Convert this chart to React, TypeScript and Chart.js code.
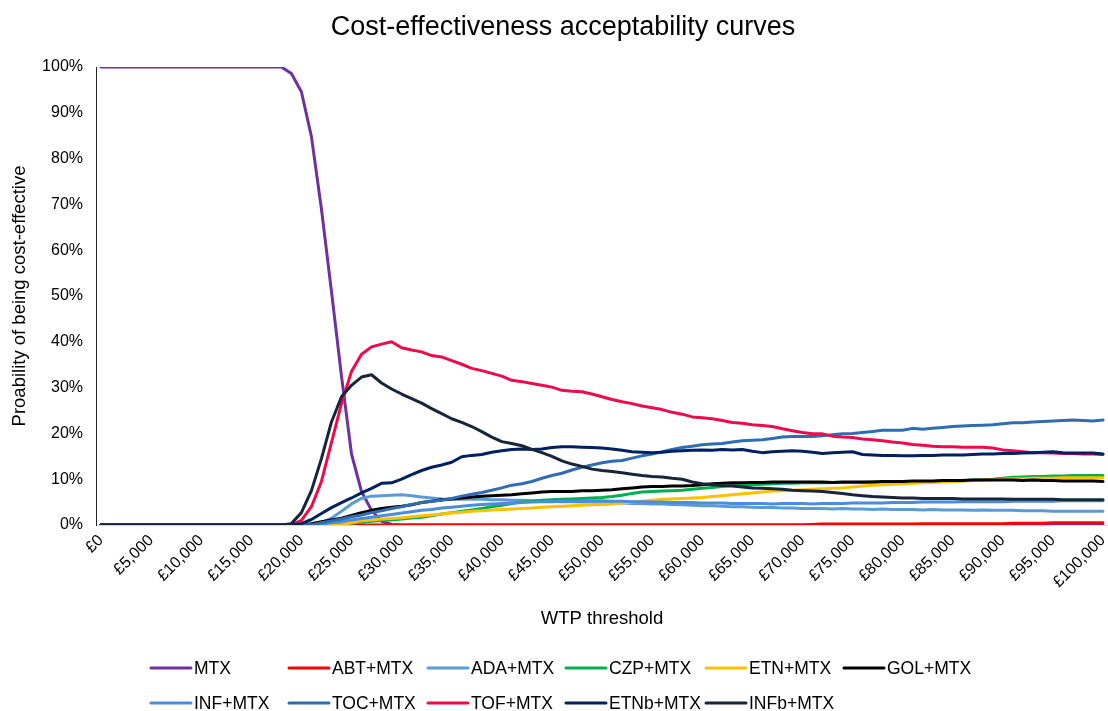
import React, { useEffect, useRef } from "react";
import { Chart, registerables } from "chart.js";

Chart.register(...registerables);

// WTP threshold in £ thousands (one point per £1,000)
const wtpThousands = [
  0, 1, 2, 3, 4, 5, 6, 7, 8, 9,
  10, 11, 12, 13, 14, 15, 16, 17, 18, 19,
  20, 21, 22, 23, 24, 25, 26, 27, 28, 29,
  30, 31, 32, 33, 34, 35, 36, 37, 38, 39,
  40, 41, 42, 43, 44, 45, 46, 47, 48, 49,
  50, 51, 52, 53, 54, 55, 56, 57, 58, 59,
  60, 61, 62, 63, 64, 65, 66, 67, 68, 69,
  70, 71, 72, 73, 74, 75, 76, 77, 78, 79,
  80, 81, 82, 83, 84, 85, 86, 87, 88, 89,
  90, 91, 92, 93, 94, 95, 96, 97, 98, 99,
  100,
];

const xTickLabels = [
  "£0", "£5,000", "£10,000", "£15,000", "£20,000", "£25,000", "£30,000",
  "£35,000", "£40,000", "£45,000", "£50,000", "£55,000", "£60,000",
  "£65,000", "£70,000", "£75,000", "£80,000", "£85,000", "£90,000",
  "£95,000", "£100,000",
];

const seriesNames = [
  "MTX", "ABT+MTX", "ADA+MTX", "CZP+MTX", "ETN+MTX", "GOL+MTX",
  "INF+MTX", "TOC+MTX", "TOF+MTX", "ETNb+MTX", "INFb+MTX",
];

const seriesColors = [
  "#7030A0", "#FF0000", "#5B9BD5", "#00B050", "#FFC000", "#000000",
  "#4A8DDC", "#2E6DB4", "#F00A4B", "#002060", "#17253A",
];

const mtx = [
  100, 100, 100, 100, 100, 100, 100, 100, 100, 100,
  100, 100, 100, 100, 100, 100, 100, 100, 100, 98.6,
  94.6, 84.8, 69.0, 51.0, 32.5, 15.5, 7.3, 3.2, 0.8, 0.1,
  0, 0, 0, 0, 0, 0, 0, 0, 0, 0,
  0, 0, 0, 0, 0, 0, 0, 0, 0, 0,
  0, 0, 0, 0, 0, 0, 0, 0, 0, 0,
  0, 0, 0, 0, 0, 0, 0, 0, 0, 0,
  0, 0, 0, 0, 0, 0, 0, 0, 0, 0,
  0, 0, 0, 0, 0, 0, 0, 0, 0, 0,
  0, 0, 0, 0, 0, 0, 0, 0, 0, 0,
  0,
];

const abt = [
  0, 0, 0, 0, 0, 0, 0, 0, 0, 0,
  0, 0, 0, 0, 0, 0, 0, 0, 0, 0,
  0, 0, 0, 0, 0, 0, 0, 0, 0, 0,
  0, 0, 0, 0, 0, 0, 0, 0, 0, 0,
  0, 0, 0, 0, 0, 0, 0, 0, 0, 0,
  0, 0, 0, 0, 0, 0, 0, 0, 0, 0,
  0, 0, 0, 0, 0, 0, 0, 0, 0, 0,
  0, 0.1, 0.2, 0.2, 0.2, 0.2, 0.2, 0.2, 0.2, 0.2,
  0.2, 0.2, 0.3, 0.3, 0.3, 0.3, 0.3, 0.3, 0.3, 0.3,
  0.3, 0.4, 0.4, 0.4, 0.4, 0.5, 0.5, 0.5, 0.5, 0.5,
  0.5,
];

const ada = [
  0, 0, 0, 0, 0, 0, 0, 0, 0, 0,
  0, 0, 0, 0, 0, 0, 0, 0, 0, 0,
  0, 0, 0.5, 1.5, 3.0, 4.6, 5.8, 6.3, 6.4, 6.5,
  6.6, 6.4, 6.1, 5.9, 5.7, 5.6, 5.6, 5.7, 5.6, 5.5,
  5.5, 5.4, 5.4, 5.3, 5.3, 5.2, 5.1, 5.1, 5.0, 5.0,
  5.0, 4.9, 4.8, 4.7, 4.7, 4.6, 4.6, 4.5, 4.4, 4.3,
  4.2, 4.2, 4.1, 4.0, 4.0, 3.9, 3.8, 3.8, 3.7, 3.7,
  3.6, 3.6, 3.6, 3.5, 3.6, 3.5, 3.5, 3.4, 3.5, 3.4,
  3.4, 3.4, 3.3, 3.4, 3.3, 3.3, 3.3, 3.2, 3.3, 3.2,
  3.2, 3.2, 3.1, 3.1, 3.1, 3.0, 3.0, 3.0, 3.0, 3.0,
  3.0,
];

const czp = [
  0, 0, 0, 0, 0, 0, 0, 0, 0, 0,
  0, 0, 0, 0, 0, 0, 0, 0, 0, 0,
  0, 0, 0, 0, 0.2, 0.4, 0.6, 0.8, 1.0, 1.1,
  1.3, 1.5, 1.7, 2.0, 2.4, 2.7, 3.0, 3.3, 3.6, 4.0,
  4.3, 4.7, 5.0, 5.2, 5.4, 5.5, 5.6, 5.7, 5.8, 5.9,
  6.0, 6.2, 6.5, 6.9, 7.2, 7.3, 7.4, 7.5, 7.6, 7.8,
  8.0, 8.2, 8.4, 8.6, 8.7, 8.8, 8.9, 9.0, 9.1, 9.1,
  9.2, 9.2, 9.2, 9.3, 9.3, 9.3, 9.3, 9.4, 9.4, 9.4,
  9.4, 9.5, 9.5, 9.5, 9.6, 9.6, 9.7, 9.8, 9.9, 10.0,
  10.2, 10.4, 10.5, 10.6, 10.6, 10.7, 10.7, 10.8, 10.8, 10.8,
  10.8,
];

const etn = [
  0, 0, 0, 0, 0, 0, 0, 0, 0, 0,
  0, 0, 0, 0, 0, 0, 0, 0, 0, 0,
  0, 0, 0, 0, 0, 0.5, 0.9, 1.1, 1.3, 1.4,
  1.6, 1.8, 2.0, 2.2, 2.4, 2.6, 2.8, 3.0, 3.1, 3.3,
  3.4, 3.5, 3.6, 3.7, 3.9, 4.0, 4.1, 4.2, 4.3, 4.4,
  4.5, 4.6, 4.8, 5.0, 5.2, 5.4, 5.6, 5.7, 5.8, 5.9,
  6.0, 6.2, 6.4, 6.6, 6.8, 7.0, 7.2, 7.4, 7.5, 7.6,
  7.7, 7.8, 7.9, 8.0, 8.1, 8.3, 8.5, 8.7, 8.8, 8.9,
  9.0, 9.1, 9.2, 9.3, 9.4, 9.5, 9.6, 9.7, 9.8, 9.9,
  10.0, 10.1, 10.1, 10.2, 10.2, 10.2, 10.3, 10.3, 10.3, 10.3,
  10.3,
];

const gol = [
  0, 0, 0, 0, 0, 0, 0, 0, 0, 0,
  0, 0, 0, 0, 0, 0, 0, 0, 0, 0,
  0, 0.3, 0.7, 1.1, 1.5, 2.1, 2.7, 3.2, 3.6, 3.9,
  4.1, 4.4, 4.9, 5.2, 5.5, 5.7, 5.9, 6.1, 6.3, 6.4,
  6.5, 6.6, 6.8, 7.0, 7.2, 7.3, 7.3, 7.3, 7.5, 7.5,
  7.6, 7.7, 7.9, 8.1, 8.3, 8.4, 8.4, 8.5, 8.5, 8.6,
  8.8, 9.0, 9.1, 9.2, 9.2, 9.3, 9.3, 9.4, 9.4, 9.4,
  9.4, 9.4, 9.4, 9.3, 9.4, 9.4, 9.4, 9.4, 9.5, 9.5,
  9.5, 9.6, 9.6, 9.6, 9.7, 9.7, 9.7, 9.8, 9.8, 9.8,
  9.8, 9.8, 9.7, 9.8, 9.7, 9.7, 9.6, 9.6, 9.6, 9.6,
  9.5,
];

const inf = [
  0, 0, 0, 0, 0, 0, 0, 0, 0, 0,
  0, 0, 0, 0, 0, 0, 0, 0, 0, 0,
  0, 0, 0.2, 0.5, 0.8, 1.1, 1.4, 1.7, 2.0, 2.3,
  2.6, 2.9, 3.2, 3.4, 3.7, 3.9, 4.1, 4.3, 4.5, 4.6,
  4.7, 4.8, 4.9, 5.0, 5.1, 5.1, 5.2, 5.2, 5.2, 5.3,
  5.3, 5.2, 5.2, 5.1, 5.1, 5.0, 5.0, 4.9, 4.9, 4.9,
  4.8, 4.8, 4.8, 4.7, 4.7, 4.7, 4.7, 4.6, 4.7, 4.7,
  4.7, 4.6, 4.7, 4.7, 4.7, 4.8, 4.8, 4.8, 4.8, 4.9,
  4.9, 4.9, 5.0, 5.0, 5.0, 5.0, 5.1, 5.1, 5.1, 5.1,
  5.1, 5.2, 5.2, 5.2, 5.2, 5.2, 5.3, 5.3, 5.3, 5.3,
  5.3,
];

const toc = [
  0, 0, 0, 0, 0, 0, 0, 0, 0, 0,
  0, 0, 0, 0, 0, 0, 0, 0, 0, 0,
  0, 0, 0.5, 0.9, 1.3, 1.8, 2.2, 2.7, 3.1, 3.6,
  4.0, 4.5, 4.9, 5.2, 5.4, 5.8, 6.3, 6.7, 7.1, 7.6,
  8.1, 8.7, 9.0, 9.5, 10.2, 10.8, 11.3, 12.0, 12.6, 13.1,
  13.6, 13.9, 14.1, 14.6, 15.1, 15.5, 16.0, 16.5, 16.9, 17.2,
  17.5, 17.7, 17.8, 18.1, 18.4, 18.5, 18.6, 18.9, 19.2, 19.3,
  19.3, 19.3, 19.5, 19.7, 19.9, 20.0, 20.2, 20.4, 20.7, 20.7,
  20.7, 21.1, 20.9, 21.1, 21.3, 21.5, 21.6, 21.7, 21.8, 21.9,
  22.1, 22.3, 22.3, 22.5, 22.6, 22.7, 22.8, 22.9, 22.8, 22.7,
  22.9,
];

const tof = [
  0, 0, 0, 0, 0, 0, 0, 0, 0, 0,
  0, 0, 0, 0, 0, 0, 0, 0, 0, 0,
  1.0, 4.0, 9.5, 18.0, 26.5, 33.5, 37.3, 38.9, 39.5, 40.0,
  38.7, 38.2, 37.8, 37.0, 36.7, 35.9, 35.1, 34.2, 33.7, 33.1,
  32.5, 31.6, 31.3, 30.9, 30.5, 30.1, 29.4, 29.2, 29.1, 28.6,
  28.0, 27.4, 26.9, 26.5, 26.0, 25.6, 25.2, 24.6, 24.2, 23.6,
  23.4, 23.2, 22.8, 22.4, 22.2, 21.9, 21.7, 21.5, 21.0, 20.6,
  20.2, 19.9, 19.9, 19.4, 19.2, 19.1, 18.8, 18.6, 18.4, 18.1,
  17.9, 17.6, 17.4, 17.2, 17.1, 17.1, 17.0, 17.0, 17.0, 16.8,
  16.4, 16.2, 16.0, 15.8, 15.8, 15.7, 15.6, 15.6, 15.5, 15.5,
  15.4,
];

const etnb = [
  0, 0, 0, 0, 0, 0, 0, 0, 0, 0,
  0, 0, 0, 0, 0, 0, 0, 0, 0, 0,
  0.3, 1.2, 2.5, 3.8, 4.9, 5.9, 7.0, 8.0, 9.1, 9.2,
  10.0, 11.0, 11.9, 12.6, 13.1, 13.7, 14.9, 15.2, 15.4, 15.9,
  16.2, 16.5, 16.6, 16.5, 16.6, 16.9, 17.1, 17.1, 17.0, 16.9,
  16.8, 16.6, 16.3, 16.0, 15.9, 15.8, 15.9, 16.1, 16.2, 16.3,
  16.4, 16.3, 16.5, 16.4, 16.5, 16.1, 15.8, 16.0, 16.1, 16.2,
  16.1, 15.9, 15.6, 15.8, 15.9, 16.0, 15.4, 15.3, 15.2, 15.2,
  15.1, 15.1, 15.2, 15.2, 15.3, 15.3, 15.3, 15.4, 15.5, 15.5,
  15.6, 15.6, 15.7, 15.8, 15.9, 16.0, 15.8, 15.7, 15.7, 15.7,
  15.5,
];

const infb = [
  0, 0, 0, 0, 0, 0, 0, 0, 0, 0,
  0, 0, 0, 0, 0, 0, 0, 0, 0, 0.3,
  2.7, 7.5, 14.5, 22.5, 28.0, 30.5, 32.3, 32.8, 31.0, 29.7,
  28.6, 27.6, 26.6, 25.4, 24.3, 23.2, 22.4, 21.5, 20.4, 19.2,
  18.2, 17.8, 17.3, 16.5, 15.8, 15.0, 14.0, 13.3, 12.8, 12.2,
  11.9, 11.7, 11.4, 11.1, 10.8, 10.6, 10.5, 10.2, 10.0, 9.4,
  9.0, 8.8, 8.6, 8.5, 8.3, 8.1, 8.0, 7.9, 7.8, 7.6,
  7.5, 7.4, 7.3, 7.1, 6.9, 6.6, 6.4, 6.2, 6.1, 6.0,
  5.9, 5.9, 5.8, 5.8, 5.8, 5.8, 5.7, 5.7, 5.7, 5.7,
  5.7, 5.6, 5.6, 5.6, 5.6, 5.6, 5.5, 5.5, 5.5, 5.5,
  5.5,
];

const seriesValues = [mtx, abt, ada, czp, etn, gol, inf, toc, tof, etnb, infb];

const FONT = "'Liberation Sans', Arial, Helvetica, sans-serif";

const legendPlugin = {
  id: "fixedLegend",
  afterDraw(chart: any) {
    const ctx = chart.ctx;
    const cols = [151, 289, 428, 566, 706, 844];
    const rows = [668, 703];
    const perRow = 6;
    ctx.save();
    ctx.font = `17.5px ${FONT}`;
    ctx.textBaseline = "middle";
    ctx.textAlign = "left";
    chart.data.datasets.forEach((ds: any, i: number) => {
      const x = cols[i % perRow];
      const y = rows[Math.floor(i / perRow)];
      ctx.strokeStyle = ds.borderColor;
      ctx.lineWidth = 3;
      ctx.lineCap = "round";
      ctx.beginPath();
      ctx.moveTo(x, y);
      ctx.lineTo(x + 40, y);
      ctx.stroke();
      ctx.fillStyle = "#000";
      ctx.fillText(ds.label, x + 43, y + 1);
    });
    ctx.restore();
  },
};

export default function App() {
  const canvasRef = useRef<HTMLCanvasElement | null>(null);

  useEffect(() => {
    document.body.style.margin = "0";
    const canvas = canvasRef.current;
    if (!canvas) return;

    const chart = new Chart(canvas, {
      type: "line",
      data: {
        labels: wtpThousands,
        datasets: seriesNames.map((name, i) => ({
          label: name,
          data: seriesValues[i],
          borderColor: seriesColors[i],
          backgroundColor: seriesColors[i],
          borderWidth: 3,
          pointRadius: 0,
          pointHoverRadius: 0,
          tension: 0,
          fill: false,
          borderJoinStyle: "round" as const,
          borderCapStyle: "round" as const,
          order: -i,
        })),
      },
      options: {
        responsive: false,
        animation: false,
        devicePixelRatio: 1,
        layout: { padding: { top: 67, bottom: 81, left: 0, right: 0 } },
        plugins: {
          legend: { display: false },
          tooltip: { enabled: false },
          title: { display: false },
        },
        scales: {
          x: {
            type: "category",
            offset: true,
            grid: { display: false, drawTicks: false },
            border: { display: true, color: "#d9d9d9", width: 1 },
            ticks: {
              autoSkip: false,
              minRotation: 45,
              maxRotation: 45,
              padding: 6,
              color: "#000",
              font: { family: FONT, size: 16 },
              callback: (_v: any, index: number) =>
                index % 5 === 0 ? xTickLabels[index / 5] : "",
            },
            title: {
              display: true,
              text: "WTP threshold",
              color: "#000",
              font: { family: FONT, size: 18.5 },
              padding: { top: 0, bottom: 0 },
            },
            afterFit: (s: any) => {
              s.height = 105;
              s.paddingLeft = 0;
              s.paddingRight = 0;
            },
          },
          y: {
            min: 0,
            max: 100,
            grid: { display: false, drawTicks: false },
            border: { display: true, color: "#262626", width: 1 },
            ticks: {
              stepSize: 10,
              padding: 13,
              color: "#000",
              font: { family: FONT, size: 16 },
              callback: (v: any) => `${v}%`,
            },
            title: {
              display: true,
              text: "Proability of being cost-effective",
              color: "#000",
              font: { family: FONT, size: 18.5 },
              padding: { top: 9, bottom: 0 },
            },
            afterFit: (s: any) => {
              s.width = 96;
            },
          },
        },
      },
      plugins: [
        legendPlugin,
        {
          id: "topTitle",
          afterDraw(chart: any) {
            const ctx = chart.ctx;
            ctx.save();
            ctx.font = `27px ${FONT}`;
            ctx.fillStyle = "#000";
            ctx.textAlign = "center";
            ctx.textBaseline = "middle";
            ctx.fillText("Cost-effectiveness acceptability curves", 563, 28);
            ctx.restore();
          },
        },
      ],
    });

    return () => chart.destroy();
  }, []);

  return (
    <div style={{ width: 1108, height: 711, background: "#fff" }}>
      <canvas ref={canvasRef} width={1108} height={711} />
    </div>
  );
}
